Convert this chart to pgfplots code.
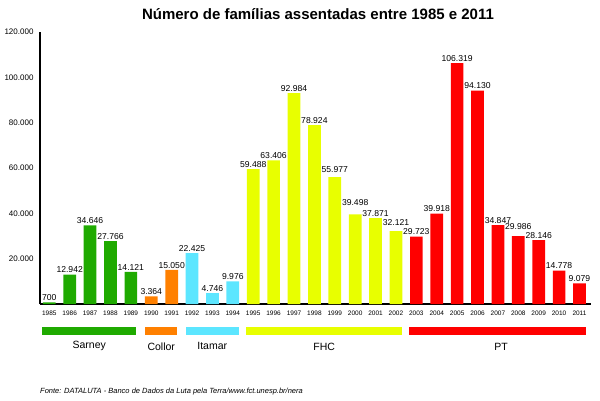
\documentclass[border=0pt]{standalone}
\usepackage{pgfplots}
\pgfplotsset{compat=1.18}
\usepackage{fontspec}
\setmainfont{Liberation Sans}
\definecolor{cSarney}{RGB}{31,170,0}
\definecolor{cCollor}{RGB}{255,128,0}
\definecolor{cItamar}{RGB}{92,230,255}
\definecolor{cFHC}{RGB}{232,255,0}
\definecolor{cPT}{RGB}{255,0,0}
\begin{document}
\begin{tikzpicture}
\path[use as bounding box] (-40pt,-96pt) rectangle (560pt,304pt);
\begin{axis}[
  scale only axis, width=551pt, height=272pt,
  at={(0,0)}, anchor=south west,
  xmin=1984.544, xmax=2011.564, ymin=0, ymax=120000,
  axis x line=bottom, axis y line=left,
  axis line style={line width=1.5pt,-},
  major tick length=0pt,
  scaled y ticks=false,
  xtick={1985,1986,1987,1988,1989,1990,1991,1992,1993,1994,1995,1996,1997,1998,1999,2000,2001,2002,2003,2004,2005,2006,2007,2008,2009,2010,2011},
  xticklabels={1985,1986,1987,1988,1989,1990,1991,1992,1993,1994,1995,1996,1997,1998,1999,2000,2001,2002,2003,2004,2005,2006,2007,2008,2009,2010,2011},
  ytick={20000,40000,60000,80000,100000,120000},
  yticklabels={20.000,40.000,60.000,80.000,100.000,120.000},
  ybar, bar width=12.7pt, bar shift=0pt,
  yticklabel style={font=\fontsize{8}{9}\selectfont, xshift=-3pt},
  xticklabel style={font=\fontsize{6.5}{7}\selectfont, yshift=-3pt},
  point meta=explicit symbolic,
  nodes near coords,
  every node near coord/.append style={font=\fontsize{8.6}{10}\selectfont, black, inner sep=1.5pt},
  clip=false,
]
\addplot[fill=cSarney, draw=none] coordinates {(1985,700) [700] (1986,12942) [12.942] (1987,34646) [34.646] (1988,27766) [27.766] (1989,14121) [14.121]};
\addplot[fill=cCollor, draw=none] coordinates {(1990,3364) [3.364] (1991,15050) [15.050]};
\addplot[fill=cItamar, draw=none] coordinates {(1992,22425) [22.425] (1993,4746) [4.746] (1994,9976) [9.976]};
\addplot[fill=cFHC, draw=none] coordinates {(1995,59488) [59.488] (1996,63406) [63.406] (1997,92984) [92.984] (1998,78924) [78.924] (1999,55977) [\raisebox{3pt}{55.977}] (2000,39498) [\raisebox{7pt}{39.498}] (2001,37871) [37.871] (2002,32121) [\raisebox{4pt}{32.121}]};
\addplot[fill=cPT, draw=none] coordinates {(2003,29723) [29.723] (2004,39918) [39.918] (2005,106319) [106.319] (2006,94130) [94.130] (2007,34847) [34.847] (2008,29986) [\raisebox{5pt}{29.986}] (2009,28146) [28.146] (2010,14778) [14.778] (2011,9079) [9.079]};

\fill[cSarney] (axis cs:1984.66,-10147) rectangle (axis cs:1989.26,-13676);
\fill[cCollor] (axis cs:1989.71,-10147) rectangle (axis cs:1991.27,-13676);
\fill[cItamar] (axis cs:1991.72,-10147) rectangle (axis cs:1994.31,-13676);
\fill[cFHC] (axis cs:1994.66,-10147) rectangle (axis cs:2002.30,-13676);
\fill[cPT] (axis cs:2002.65,-10147) rectangle (axis cs:2011.32,-13676);
\node[font=\fontsize{10.5}{12}\selectfont] at (axis cs:1986.96,-18300) {Sarney};
\node[font=\fontsize{10.5}{12}\selectfont] at (axis cs:1990.49,-18700) {Collor};
\node[font=\fontsize{10.5}{12}\selectfont] at (axis cs:1992.99,-18700) {Itamar};
\node[font=\fontsize{10.5}{12}\selectfont] at (axis cs:1998.48,-18700) {FHC};
\node[font=\fontsize{10.5}{12}\selectfont] at (axis cs:2007.16,-18700) {PT};
\end{axis}
\node[font=\bfseries\fontsize{15}{17}\selectfont] at (278pt,290pt) {Número de famílias assentadas entre 1985 e 2011};
\node[anchor=west, inner sep=0pt, font=\itshape\fontsize{7.5}{9}\selectfont] at (0pt,-88pt) {Fonte: DATALUTA - Banco de Dados da Luta pela Terra/www.fct.unesp.br/nera};
\end{tikzpicture}
\end{document}
